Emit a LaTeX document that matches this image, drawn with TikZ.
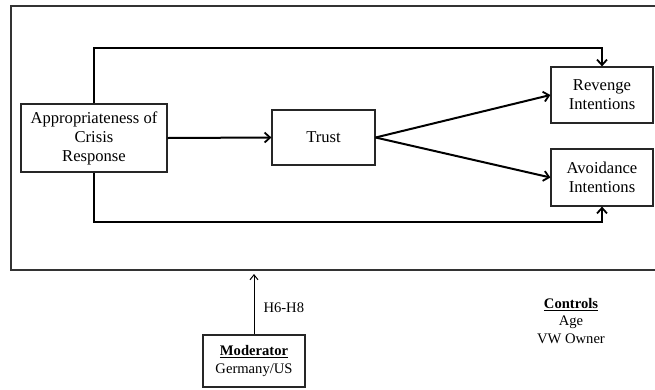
\documentclass[tikz,border=0pt]{standalone}
\usepackage{fontspec}
\setmainfont{Liberation Serif}
\usetikzlibrary{arrows.meta}
\begin{document}
\begin{tikzpicture}[x=1pt,y=-1pt,
  box/.style={draw=black!85,line width=1.2pt,align=center,inner sep=2pt,font=\fontsize{16.6}{19}\selectfont},
  conn/.style={line width=2pt,-{Straight Barb[length=5.5pt,width=10pt,line width=1.8pt]}},
  thin/.style={line width=1pt,-{Straight Barb[length=5pt,width=8pt,line width=1pt]}},
  lbl/.style={font=\fontsize{14.6}{17.5}\selectfont,align=center}]
\useasboundingbox (0,0) rectangle (655,389);
\draw[black!80,line width=1.3pt] (656,6) -- (11,6) -- (11,270) -- (656,270);
\node[box,minimum width=146pt,minimum height=68pt] (appr) at (94,138) {Appropriateness of\\Crisis\\Response};
\node[box,minimum width=103pt,minimum height=55pt] (trust) at (323.5,137.5) {Trust};
\node[box,minimum width=102pt,minimum height=56pt] (rev) at (602,95) {Revenge\\Intentions};
\node[box,minimum width=102pt,minimum height=57pt] (avoid) at (602,177.5) {Avoidance\\Intentions};
\node[box,minimum width=102pt,minimum height=52pt,font=\fontsize{14.6}{18}\selectfont] (mod) at (254,361) {\textbf{\underline{Moderator}}\\Germany/US};
\node[lbl] (ctrl) at (571,321) {\textbf{\underline{Controls}}\\Age\\VW Owner};
\coordinate (modtip) at (254,274);
\draw[conn] (appr.east) -- (trust.west);
\draw[conn] (trust.east) -- (rev.west);
\draw[conn] (trust.east) -- (avoid.west);
\draw[conn] (appr.north) -- (appr.north |- 0,48) -| (rev.north);
\draw[conn] (appr.south) -- (appr.south |- 0,222) -| (avoid.south);
\draw[thin] (mod.north) -- (modtip);
\node[lbl,anchor=west] (h) at (260,308) {H6-H8};
\end{tikzpicture}
\end{document}
